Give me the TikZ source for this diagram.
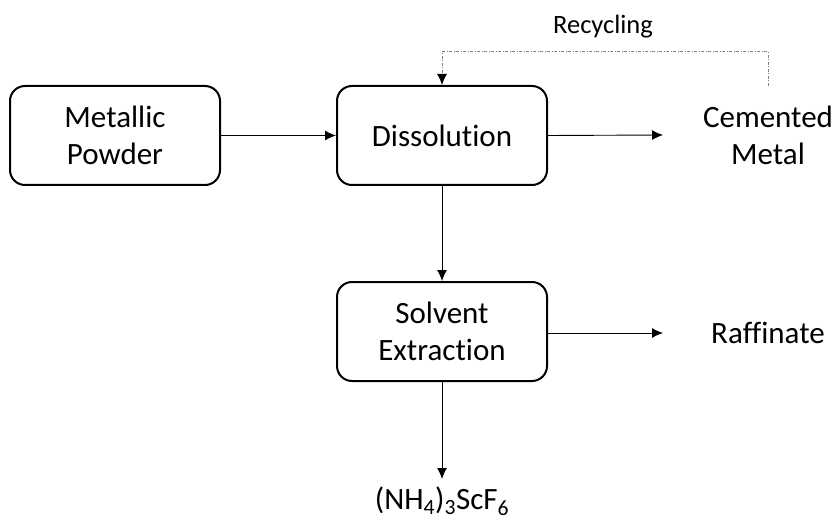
\documentclass[tikz,border=0pt]{standalone}
\usepackage{fontspec}
\setmainfont{Carlito}[Ligatures=NoCommon,RawFeature={-liga;-dlig;-calt}]
\usetikzlibrary{arrows.meta}
\begin{document}
\begin{tikzpicture}[x=1pt,y=-1pt,
  procbox/.style={draw=black,line width=2pt,rounded corners=15pt,minimum width=210pt,minimum height=99pt,align=center,inner sep=0pt,font=\fontsize{31}{37}\selectfont},
  lbl/.style={align=center,inner sep=0pt,font=\fontsize{31}{37}\selectfont},
  flow/.style={line width=0.9pt,-{Latex[length=11pt,width=10pt]}},
  recyc/.style={draw={rgb,255:red,128;green,128;blue,128},line width=1pt,dash pattern=on 3pt off 1.5pt on 1pt off 1.5pt,-{Latex[length=11pt,width=10pt,fill=black,color=black]}}]
\useasboundingbox (0,0) rectangle (834,521);
\node[procbox] (mp) at (115,135.5) {Metallic\\Powder};
\node[procbox] (dis) at (442,135.5) {Dissolution};
\node[procbox] (se) at (442,331.5) {Solvent\\Extraction};
\node[lbl] (cm) at (768,135) {Cemented\\Metal};
\node[lbl] (raf) at (768,333) {Raffinate};
\node[lbl,anchor=base] (prod) at (442,509) {(NH\textsubscript{4})\textsubscript{3}ScF\textsubscript{6}};
\node[inner sep=0pt,font=\fontsize{26.5}{30}\selectfont] (rec) at (603,27) {Recycling};
\coordinate (cmin) at (663,135);
\coordinate (rafin) at (663,333);
\coordinate (prodin) at (442,479);
\coordinate (rtop) at (768,86);
\draw[flow] (mp.east) -- (dis.west);
\draw[flow] (dis.east) -- (cmin);
\draw[flow] (dis.south) -- (se.north);
\draw[flow] (se.east |- rafin) -- (rafin);
\draw[flow] (se.south) -- (prodin);
\draw[recyc] (rtop) -- (768,52) -- (442,52) -- (dis.north);
\end{tikzpicture}
\end{document}
